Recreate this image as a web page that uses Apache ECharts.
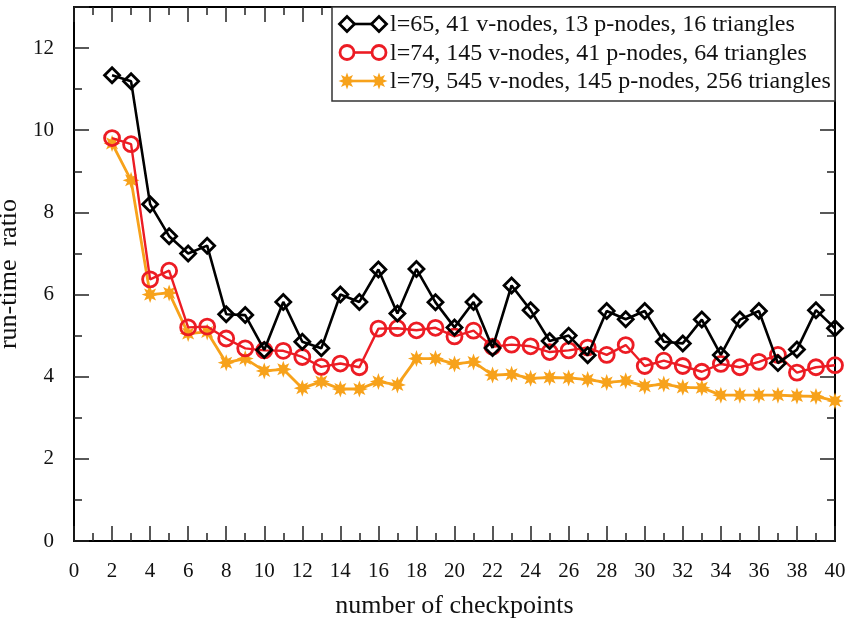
<!DOCTYPE html>
<html>
<head>
<meta charset="utf-8">
<script src="https://cdn.jsdelivr.net/npm/echarts@6/dist/echarts.min.js"></script>
<style>
	html, body { margin: 0; padding: 0; background: #fff; }
	#chart { width: 847px; height: 623px; }
</style>
</head>
<body>
<div id="chart"></div>
<script>
// number of checkpoints (x)
var checkpoints = [2, 3, 4, 5, 6, 7, 8, 9, 10, 11, 12, 13, 14, 15, 16, 17, 18, 19, 20, 21,
	22, 23, 24, 25, 26, 27, 28, 29, 30, 31, 32, 33, 34, 35, 36, 37, 38, 39, 40];

// run-time ratio, one array per mesh
var ratio65 = [11.34, 11.19, 8.2, 7.42, 7.0, 7.19, 5.52, 5.5, 4.65, 5.82, 4.85, 4.69, 6.0, 5.82, 6.61, 5.54,
	6.62, 5.81, 5.2, 5.82, 4.7, 6.22, 5.62, 4.87, 5.0, 4.52, 5.6, 5.4, 5.6, 4.85, 4.81, 5.39, 4.53, 5.39,
	5.6, 4.33, 4.66, 5.62, 5.18];
var ratio74 = [9.81, 9.66, 6.37, 6.58, 5.2, 5.22, 4.93, 4.69, 4.64, 4.63, 4.48, 4.24, 4.32, 4.23, 5.17, 5.18,
	5.13, 5.19, 4.98, 5.12, 4.73, 4.78, 4.74, 4.6, 4.64, 4.71, 4.53, 4.77, 4.26, 4.39, 4.26, 4.12, 4.31, 4.23,
	4.36, 4.53, 4.1, 4.23, 4.28];
var ratio79 = [9.68, 8.78, 6.0, 6.04, 5.05, 5.09, 4.34, 4.44, 4.14, 4.18, 3.72, 3.88, 3.7, 3.7, 3.88, 3.8,
	4.44, 4.44, 4.31, 4.36, 4.04, 4.06, 3.96, 3.98, 3.97, 3.93, 3.86, 3.9, 3.77, 3.82, 3.74, 3.73, 3.55, 3.55,
	3.55, 3.55, 3.53, 3.52, 3.41];

var seriesNames = [
	'l=65, 41 v-nodes, 13 p-nodes, 16 triangles',
	'l=74, 145 v-nodes, 41 p-nodes, 64 triangles',
	'l=79, 545 v-nodes, 145 p-nodes, 256 triangles'
];

var xTicks = { min: 0, max: 40, interval: 2 };
var yTicks = { min: 0, max: 13, interval: 1, major: 2 };

var FONT = 'Liberation Serif';
var RED = '#ec1c24';
var ORANGE = '#f7a21b';

// asterisk-like burst (points of an 8 pointed star)
function starPoints(cx, cy, R) {
	var pts = [];
	for (var k = 0; k < 16; k++) {
		var a = k * Math.PI / 8 - Math.PI / 2;
		var r = (k % 2 == 0) ? R : R * 0.5;
		pts.push([cx + r * Math.cos(a), cy + r * Math.sin(a)]);
	}
	return pts;
}
var STAR = 'path://M' + starPoints(10, 10, 10).map(function(p) {
	return p[0].toFixed(2) + ' ' + p[1].toFixed(2);
}).join(' L') + ' Z';

function pairs(ys) {
	var out = [];
	for (var i = 0; i < checkpoints.length; i++) {
		out.push([checkpoints[i], ys[i]]);
	}
	return out;
}

var chart = echarts.init(document.getElementById('chart'), null, { renderer: 'canvas' });

var tickLine = { color: '#222', width: 1.5 };
var baseX = {
	type: 'value', min: xTicks.min, max: xTicks.max, interval: xTicks.interval,
	axisLine: { show: true, onZero: false, lineStyle: { color: '#000', width: 2 } },
	axisTick: { show: true, inside: true, length: 15, lineStyle: tickLine },
	minorTick: { show: true, splitNumber: 2, length: 8, lineStyle: tickLine },
	splitLine: { show: false }
};
// short ticks at every unit
var baseY = {
	type: 'value', min: yTicks.min, max: yTicks.max, interval: yTicks.interval, offset: 0,
	axisLine: { show: true, onZero: false, lineStyle: { color: '#000', width: 2 } },
	axisTick: { show: true, inside: true, length: 8, lineStyle: tickLine },
	axisLabel: { show: false },
	splitLine: { show: false }
};
// long ticks at every second unit
var majorY = {
	type: 'value', min: yTicks.min, max: yTicks.max, interval: yTicks.major, offset: 0,
	axisLine: { show: false, onZero: false },
	axisTick: { show: true, inside: true, length: 15, lineStyle: tickLine },
	axisLabel: { show: false },
	splitLine: { show: false }
};

var option = {
	animation: false,
	backgroundColor: '#fff',
	grid: { left: 74, right: 12, top: 7, bottom: 82, outerBoundsMode: 'none' },
	xAxis: [
		Object.assign({}, baseX, {
			position: 'bottom',
			name: 'number of checkpoints',
			nameLocation: 'middle',
			nameGap: 52,
			nameTextStyle: { fontFamily: FONT, fontSize: 26, color: '#111' },
			axisLabel: { margin: 20, fontFamily: FONT, fontSize: 21, color: '#111' }
		}),
		Object.assign({}, baseX, { position: 'top', axisLabel: { show: false } })
	],
	yAxis: [
		Object.assign({}, baseY, {
			position: 'left',
			name: 'run-time  ratio',
			nameLocation: 'middle',
			nameGap: 40,
			nameTextStyle: { fontFamily: FONT, fontSize: 26, color: '#111' },
			axisLabel: {
				show: true, margin: 20, fontFamily: FONT, fontSize: 21, color: '#111',
				formatter: function(v) { return v % yTicks.major == 0 ? v : ''; }
			}
		}),
		Object.assign({}, baseY, { position: 'right' }),
		Object.assign({}, majorY, { position: 'left' }),
		Object.assign({}, majorY, { position: 'right' })
	],
	series: [{
		name: seriesNames[0],
		type: 'line',
		data: pairs(ratio65),
		symbol: 'diamond',
		symbolSize: 15,
		lineStyle: { color: '#000', width: 2.6 },
		itemStyle: { color: 'rgba(255,255,255,0)', borderColor: '#000', borderWidth: 2.8 },
		z: 4
	}, {
		name: seriesNames[1],
		type: 'line',
		data: pairs(ratio74),
		symbol: 'circle',
		symbolSize: 15,
		lineStyle: { color: RED, width: 2.4 },
		itemStyle: { color: 'rgba(255,255,255,0)', borderColor: RED, borderWidth: 2.8 },
		z: 3
	}, {
		name: seriesNames[2],
		type: 'line',
		data: pairs(ratio79),
		symbol: STAR,
		symbolSize: 17,
		lineStyle: { color: ORANGE, width: 2.8 },
		itemStyle: { color: ORANGE },
		z: 2
	}]
};
chart.setOption(option);

// key box in the top right corner, drawn like the original
function legendSymbol(i, cx, cy) {
	if (i == 0) {
		return { type: 'polygon', shape: { points: [[cx, cy - 7.5], [cx + 7.5, cy], [cx, cy + 7.5], [cx - 7.5, cy]] },
			style: { fill: '#fff', stroke: '#000', lineWidth: 2.8 } };
	}
	if (i == 1) {
		return { type: 'circle', shape: { cx: cx, cy: cy, r: 7 },
			style: { fill: '#fff', stroke: RED, lineWidth: 2.8 } };
	}
	return { type: 'polygon', shape: { points: starPoints(cx, cy, 8.5) }, style: { fill: ORANGE } };
}

var colors = ['#000', RED, ORANGE];
var legendEls = [{
	type: 'rect', shape: { x: 332, y: 7, width: 503, height: 94 },
	style: { fill: '#fff', stroke: '#333', lineWidth: 1.5 }, z: 10
}];
for (var i = 0; i < seriesNames.length; i++) {
	var cy = 24 + i * 28.5;
	legendEls.push({ type: 'line', shape: { x1: 347, y1: cy, x2: 379, y2: cy },
		style: { stroke: colors[i], lineWidth: 2.6 }, z: 11 });
	var s1 = legendSymbol(i, 347, cy); s1.z = 12; legendEls.push(s1);
	var s2 = legendSymbol(i, 379, cy); s2.z = 12; legendEls.push(s2);
	legendEls.push({ type: 'text', x: 390, y: cy + 1, z: 12,
		style: { text: seriesNames[i], font: '24px "' + FONT + '"', fill: '#111', verticalAlign: 'middle' } });
}
chart.setOption({ graphic: legendEls });
</script>
</body>
</html>
